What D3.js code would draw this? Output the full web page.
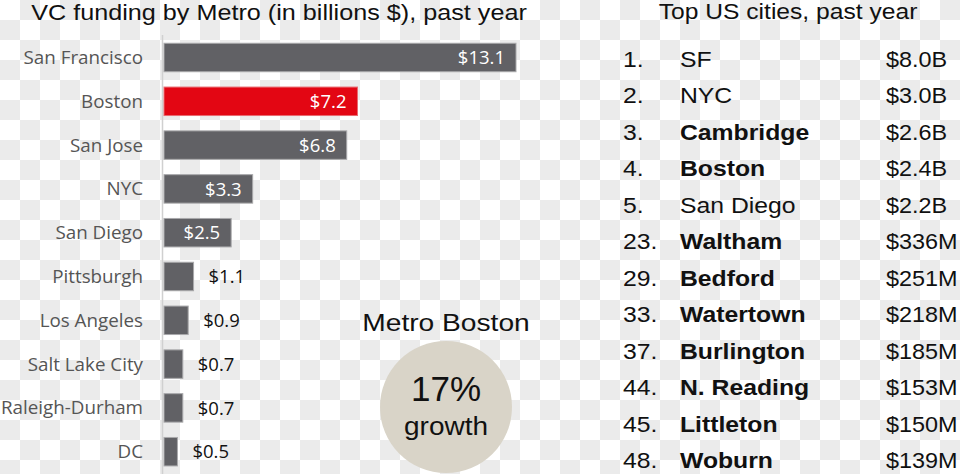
<!DOCTYPE html>
<html>
<head>
<meta charset="utf-8">
<script src="https://cdn.jsdelivr.net/npm/d3@7"></script>
<style>
  html, body { margin: 0; padding: 0; background: #fff; }
  svg { display: block; }
</style>
</head>
<body>
<svg id="chart" width="960" height="474"></svg>
<script>
// ---- data ----
const metros = ["San Francisco", "Boston", "San Jose", "NYC", "San Diego", "Pittsburgh", "Los Angeles", "Salt Lake City", "Raleigh-Durham", "DC"];
const funding = [13.1, 7.2, 6.8, 3.3, 2.5, 1.1, 0.9, 0.7, 0.7, 0.5];
const highlightMetro = "Boston";

const ranks = ["1.", "2.", "3.", "4.", "5.", "23.", "29.", "33.", "37.", "44.", "45.", "48."];
const cities = ["SF", "NYC", "Cambridge", "Boston", "San Diego", "Waltham", "Bedford", "Watertown", "Burlington", "N. Reading", "Littleton", "Woburn"];
const cityValues = ["$8.0B", "$3.0B", "$2.6B", "$2.4B", "$2.2B", "$336M", "$251M", "$218M", "$185M", "$153M", "$150M", "$139M"];
const boldCity = [false, false, true, true, false, true, true, true, true, true, true, true];

const leftTitle = "VC funding by Metro (in billions $), past year";
const rightTitle = "Top US cities, past year";
const calloutTitle = "Metro Boston";
const growthValue = "17%";
const growthLabel = "growth";

// ---- drawing ----
const svg = d3.select("#chart");
const W = 960, H = 474;

// checkerboard background
const defs = svg.append("defs");
const pat = defs.append("pattern").attr("id", "checker")
  .attr("width", 40).attr("height", 40).attr("patternUnits", "userSpaceOnUse");
pat.append("rect").attr("width", 40).attr("height", 40).attr("fill", "#ffffff");
pat.append("rect").attr("x", 20).attr("y", 0).attr("width", 20).attr("height", 20).attr("fill", "#ebebeb");
pat.append("rect").attr("x", 0).attr("y", 20).attr("width", 20).attr("height", 20).attr("fill", "#ebebeb");
svg.append("rect").attr("width", W).attr("height", H).attr("fill", "url(#checker)");

const sansFont = "'Liberation Sans', Arial, sans-serif";
const labelFont = "'Open Sans', 'Noto Sans', sans-serif";

// scales
const x = d3.scaleLinear().domain([0, d3.max(funding)]).range([164, 516]);
const y = d3.scaleBand().domain(metros).range([35.6, 473.6]).paddingInner(0.35).paddingOuter(0.175);

// title
svg.append("text")
  .attr("transform", "translate(279,20) scale(1.12,1)")
  .attr("text-anchor", "middle")
  .attr("font-family", sansFont).attr("font-size", 22.5).attr("fill", "#111")
  .text(leftTitle);

// axis line
svg.append("line")
  .attr("x1", 162.5).attr("x2", 162.5).attr("y1", 35).attr("y2", H)
  .attr("stroke", "#d0d0d0").attr("stroke-width", 1.5);

// y axis labels via d3 axis
const yAxis = d3.axisLeft(y).tickSize(0).tickPadding(0);
const yg = svg.append("g").attr("transform", "translate(143,0)").call(yAxis);
yg.select(".domain").remove();
yg.selectAll("text")
  .attr("font-family", labelFont).attr("font-size", 18.8).attr("fill", "#555")
  .attr("dy", "0.35em");

// bars
const data = metros.map((m, i) => ({ m, v: funding[i] }));
svg.append("g").selectAll("rect").data(data).join("rect")
  .attr("x", x(0))
  .attr("y", d => y(d.m))
  .attr("width", d => x(d.v) - x(0))
  .attr("height", y.bandwidth())
  .attr("fill", d => d.m === highlightMetro ? "#e30613" : "#616165")
  .attr("stroke", d => d.m === highlightMetro ? "#e86a70" : "#a9a9ab")
  .attr("stroke-width", 1);

// value labels
const insideThreshold = 2;
svg.append("g").selectAll("text").data(data).join("text")
  .attr("x", d => d.v > insideThreshold ? x(d.v) - 11 : x(d.v) + 15)
  .attr("y", d => y(d.m) + y.bandwidth() / 2)
  .attr("dy", "0.36em")
  .attr("text-anchor", d => d.v > insideThreshold ? "end" : "start")
  .attr("font-family", labelFont).attr("font-size", 18.5)
  .attr("fill", d => d.v > insideThreshold ? "#ffffff" : "#111")
  .text(d => "$" + d3.format(".1f")(d.v));

// callout circle
svg.append("circle").attr("cx", 446).attr("cy", 407).attr("r", 66).attr("fill", "#d9d4c8");
svg.append("text")
  .attr("transform", "translate(446,331) scale(1.15,1)")
  .attr("text-anchor", "middle")
  .attr("font-family", sansFont).attr("font-size", 24.5).attr("fill", "#111")
  .text(calloutTitle);
svg.append("text")
  .attr("x", 446).attr("y", 401)
  .attr("text-anchor", "middle")
  .attr("font-family", sansFont).attr("font-size", 35).attr("fill", "#111")
  .text(growthValue);
svg.append("text")
  .attr("transform", "translate(446,435) scale(1.12,1)")
  .attr("text-anchor", "middle")
  .attr("font-family", sansFont).attr("font-size", 25).attr("fill", "#111")
  .text(growthLabel);

// right title
svg.append("text")
  .attr("transform", "translate(788,19) scale(1.12,1)")
  .attr("text-anchor", "middle")
  .attr("font-family", sansFont).attr("font-size", 22).attr("fill", "#111")
  .text(rightTitle);

// table
const ry = d3.scalePoint().domain(d3.range(cities.length)).range([67, 468]);
const rows = svg.append("g").selectAll("g").data(cities.map((c, i) => ({ i, c })))
  .join("g").attr("transform", d => `translate(0,${ry(d.i)})`);
rows.append("text")
  .attr("transform", "translate(623,0) scale(1.1,1)")
  .attr("font-family", sansFont).attr("font-size", 22.5).attr("fill", "#111")
  .text(d => ranks[d.i]);
rows.append("text")
  .attr("transform", "translate(680,0) scale(1.1,1)")
  .attr("font-family", sansFont).attr("font-size", 22.5).attr("fill", "#111")
  .attr("font-weight", d => boldCity[d.i] ? "bold" : "normal")
  .text(d => d.c);
rows.append("text")
  .attr("transform", "translate(886,0) scale(1.04,1)")
  .attr("font-family", sansFont).attr("font-size", 22.5).attr("fill", "#111")
  .text(d => cityValues[d.i]);
</script>
</body>
</html>
